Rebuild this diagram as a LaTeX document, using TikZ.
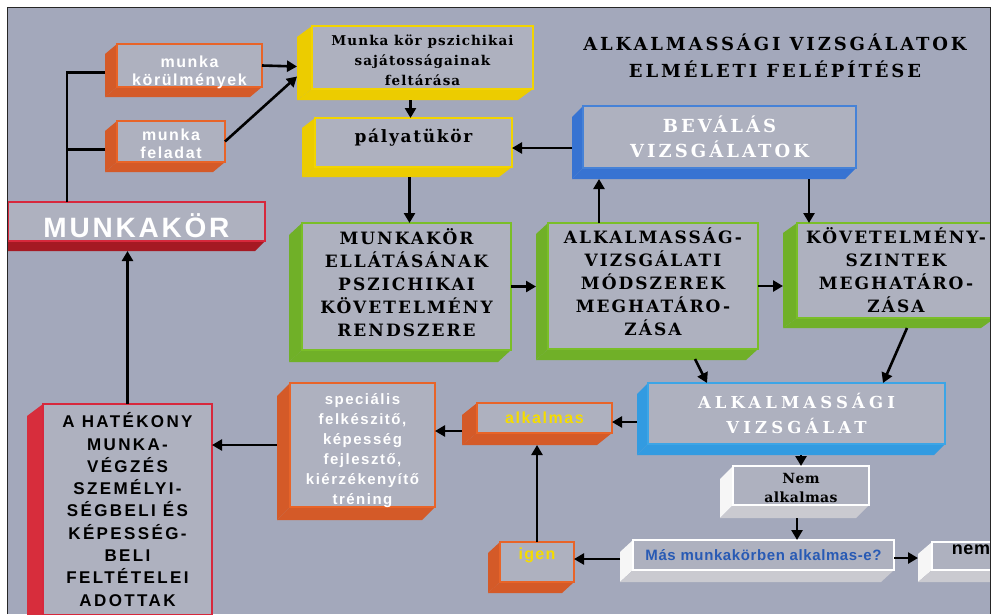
\documentclass[tikz,border=0pt]{standalone}
\usepackage{fontspec}
\usetikzlibrary{calc,arrows.meta}
\newfontfamily\srf{DejaVu Serif}
\newfontfamily\sns{Liberation Sans}
\newcommand\SansB[3]{\sns\bfseries\fontsize{#1}{#2}\selectfont\addfontfeatures{LetterSpace=#3}}
\newcommand\SerifB[3]{\srf\bfseries\fontsize{#1}{#2}\selectfont\addfontfeatures{LetterSpace=#3}}
\newcommand\ml[2]{\raisebox{#1}[\height][\depth]{\begin{tabular}{@{}c@{}}#2\end{tabular}}}
\newcommand\oneln[2]{\raisebox{#1}[\height][\depth]{#2}}
\definecolor{bgC}{RGB}{163,168,187}
\definecolor{faceC}{RGB}{174,177,191}
\definecolor{orO}{RGB}{232,100,40}
\definecolor{orS}{RGB}{212,90,40}
\definecolor{yeO}{RGB}{242,212,0}
\definecolor{yeS}{RGB}{236,204,0}
\definecolor{grO}{RGB}{122,190,40}
\definecolor{grS}{RGB}{112,176,40}
\definecolor{blO}{RGB}{70,130,215}
\definecolor{blS}{RGB}{55,115,210}
\definecolor{cyO}{RGB}{60,165,230}
\definecolor{cyS}{RGB}{50,155,225}
\definecolor{reO}{RGB}{215,40,60}
\definecolor{reS}{RGB}{215,45,60}
\definecolor{reD}{RGB}{165,25,35}
\definecolor{whL}{RGB}{246,246,246}
\definecolor{whB}{RGB}{202,202,208}
\definecolor{txBlue}{RGB}{40,90,180}
\definecolor{txYel}{RGB}{245,220,0}
\pgfdeclarelayer{bg}
\pgfdeclarelayer{slabs}
\pgfsetlayers{bg,slabs,main}
\newcommand\slab[5]{%
  \begin{pgfonlayer}{slabs}
  \fill[#4] (#1.north west) -- ++(#2,#3) -- ($(#1.south west)+(#2,#3)$) -- (#1.south west) -- cycle;
  \fill[#5] (#1.south west) -- ++(#2,#3) -- ($(#1.south east)+(#2,#3)$) -- (#1.south east) -- cycle;
  \end{pgfonlayer}}
\tikzset{
  face/.style={rectangle, draw=#1, fill=faceC, line width=1.2pt, inner sep=0pt, outer sep=0pt, align=center},
  arr/.style={line width=2.6pt, -{Triangle[length=10pt,width=11pt]}},
  conn/.style={line width=2.8pt},
}
\begin{document}
\begin{tikzpicture}[x=1pt,y=-1pt]
\useasboundingbox (0,0) rectangle (992,614);
\begin{pgfonlayer}{bg}
\fill[bgC] (7,7) rectangle (990,614);
\end{pgfonlayer}

% title
\node[align=center, font={\SerifB{18}{27}{16}}] (title) at (775,56) {ALKALMASSÁGI VIZSGÁLATOK\\ELMÉLETI FELÉPÍTÉSE};

% boxes
\node[face=orO, minimum width=145, minimum height=43, text=white, font={\SansB{16}{18}{10}}] (mkor) at (189.5,65.5) {\ml{-7pt}{munka\\körülmények}};
\slab{mkor}{-12}{10}{orS}{orS}
\node[face=orO, minimum width=108, minimum height=41, text=white, font={\SansB{16}{18}{10}}] (mfel) at (171,141.5) {\ml{-4pt}{munka\\feladat}};
\slab{mfel}{-12}{10}{orS}{orS}
\node[face=reO, minimum width=257, minimum height=39, text=white, font={\SansB{28}{30}{10}}] (mk) at (136.5,221.5) {\oneln{-4pt}{MUNKAKÖR}};
\slab{mk}{-10}{10}{reS}{reD}
\node[face=yeO, minimum width=221, minimum height=63, text=black, font={\SerifB{13.5}{20}{8}}] (psz) at (422.5,57.5) {\ml{-4pt}{Munka kör pszichikai\\sajátosságainak\\feltárása}};
\slab{psz}{-15}{11}{yeS}{yeS}
\node[face=yeO, minimum width=197, minimum height=49, text=black, font={\SerifB{17}{20}{10}}] (paly) at (413.5,142.5) {\oneln{5pt}{pályatükör}};
\slab{paly}{-13}{10}{yeS}{yeS}
\node[face=blO, minimum width=273, minimum height=62, text=white, font={\SerifB{18}{25}{17}}] (bev) at (719.5,137) {BEVÁLÁS\\VIZSGÁLATOK};
\slab{bev}{-11}{11}{blS}{blS}
\node[face=grO, minimum width=209, minimum height=127, text=black, font={\SerifB{17}{23}{12}}] (gr1) at (406.5,286.5) {\ml{1pt}{MUNKAKÖR\\ELLÁTÁSÁNAK\\PSZICHIKAI\\KÖVETELMÉNY\\RENDSZERE}};
\slab{gr1}{-13}{12}{grS}{grS}
\node[face=grO, minimum width=210, minimum height=126, text=black, font={\SerifB{17}{23}{12}}] (gr2) at (653,286) {\ml{1pt}{ALKALMASSÁG-\\VIZSGÁLATI\\MÓDSZEREK\\MEGHATÁRO-\\ZÁSA}};
\slab{gr2}{-12}{11}{grS}{grS}
\node[face=grO, minimum width=198, minimum height=95, text=black, font={\SerifB{17}{23}{12}}] (gr3) at (896,270.5) {KÖVETELMÉNY-\\SZINTEK\\MEGHATÁRO-\\ZÁSA};
\slab{gr3}{-14}{10}{grS}{grS}
\node[face=cyO, minimum width=297, minimum height=61, text=white, font={\SerifB{16.5}{25}{25}}] (alkv) at (796.5,413.5) {ALKALMASSÁGI\\VIZSGÁLAT};
\slab{alkv}{-11}{11}{cyS}{cyS}
\node[face=orO, minimum width=145, minimum height=124, text=white, font={\SansB{15}{20}{10}}] (spec) at (362.5,445) {\ml{-5pt}{speciális\\felkészitő,\\képesség\\fejlesztő,\\kiérzékenyítő\\tréning}};
\slab{spec}{-13}{13}{orS}{orS}
\node[face=orO, minimum width=135, minimum height=30, text=txYel, font={\SansB{16}{18}{10}}] (alk) at (544.5,418) {alkalmas};
\slab{alk}{-15}{12}{orS}{orS}
\node[face=orO, minimum width=74, minimum height=40, text=txYel, font={\SansB{16}{18}{8}}] (igen) at (537,562) {\oneln{7pt}{igen}};
\slab{igen}{-12}{11}{orS}{orS}
\node[face=reO, minimum width=169, minimum height=211, text=black, font={\SansB{17}{22.3}{14}}] (hat) at (127.5,509.5) {A HATÉKONY\\MUNKA-\\VÉGZÉS\\SZEMÉLYI-\\SÉGBELI ÉS\\KÉPESSÉG-\\BELI\\FELTÉTELEI\\ADOTTAK};
\slab{hat}{-16}{12}{reS}{reS}
\node[face=white, minimum width=136, minimum height=39, text=black, font={\SerifB{14}{19}{3}}] (nema) at (801,485.5) {\ml{-4pt}{Nem\\alkalmas}};
\slab{nema}{-13}{13}{whL}{whB}
\node[face=white, minimum width=261, minimum height=30, text=txBlue, font={\SansB{15}{18}{4}}] (mas) at (763.5,555) {Más munkakörben alkalmas-e?};
\slab{mas}{-13}{12}{whL}{whB}
\node[face=white, minimum width=78, minimum height=28, text=black, font={\SansB{18}{20}{4}}] (nem) at (971,556) {\oneln{6pt}{nem}};
\slab{nem}{-14}{12}{whL}{whB}

% connectors
\coordinate (spine) at (67,0);
\draw[conn] (mk.north -| spine) |- ($(mkor.west)+(-12,7)$);
\draw[conn] ($(mfel.west)+(-12,8)$) coordinate (b2) -- (spine |- b2);
\draw[arr] (mkor.east) -- ($(psz.west |- mkor.east)+(-15,1)$);
\draw[arr] (mfel.east) -- ($(psz.west)+(-15,19)$);
\draw[arr] ($(psz.south)+(-12,11)$) coordinate (c4) -- (c4 |- paly.north);
\draw[arr] ($(bev.west)+(-11,11)$) coordinate (c5) -- (paly.east |- c5);
\draw[arr] ($(paly.south)+(-4,10)$) coordinate (c6) -- (c6 |- gr1.north);
\draw[arr] (gr1.east) -- ($(gr2.west |- gr1.east)+(-12,0)$);
\draw[arr] (gr2.east) -- ($(gr3.west |- gr2.east)+(-14,0)$);
\path ($(bev.south)+(0,11)$) coordinate (bevb);
\draw[arr] ($(gr2.north)+(-54,0)$) coordinate (c9) -- (c9 |- bevb);
\draw[arr] ($(bevb)+(89.5,0)$) coordinate (c10) -- (c10 |- gr3.north);
\draw[arr] ($(gr2.south)+(42,10)$) -- ($(alkv.north)+(-89.5,0)$);
\draw[arr] ($(gr3.south)+(11,10)$) -- ($(alkv.north)+(86.5,0)$);
\draw[arr] ($(alkv.west)+(-11,8.5)$) coordinate (c13) -- (alk.east |- c13);
\draw[arr] ($(alk.west)+(-15,13)$) coordinate (c14) -- (spec.east |- c14);
\draw[arr] ($(spec.west)+(-13,0)$) coordinate (c15) -- (hat.east |- c15);
\path ($(mk.south)+(0,10)$) coordinate (mkb);
\draw[arr] (hat.north) -- (hat.north |- mkb);
\path ($(alkv.south)+(0,11)$) coordinate (alkvb);
\draw[arr] (nema.north |- alkvb) -- (nema.north);
\draw[arr] ($(nema.south)+(-4,13)$) coordinate (c18) -- (c18 |- mas.north);
\draw[arr] ($(mas.west)+(-13,4)$) coordinate (c19) -- (igen.east |- c19);
\draw[arr] ($(mas.east)+(0,3)$) coordinate (c20) -- ($(nem.west |- c20)+(-14,0)$);
\path ($(alk.south)+(0,12)$) coordinate (alkb);
\draw[arr] (igen.north) -- (igen.north |- alkb);

% frame
\fill[white] (0,0) rectangle (992,7);
\fill[white] (0,0) rectangle (7,614);
\fill[white] (990,0) rectangle (992,614);
\draw[line width=1pt, black!85] (7,614) -- (7,7) -- (990,7) -- (990,614);
\end{tikzpicture}
\end{document}
